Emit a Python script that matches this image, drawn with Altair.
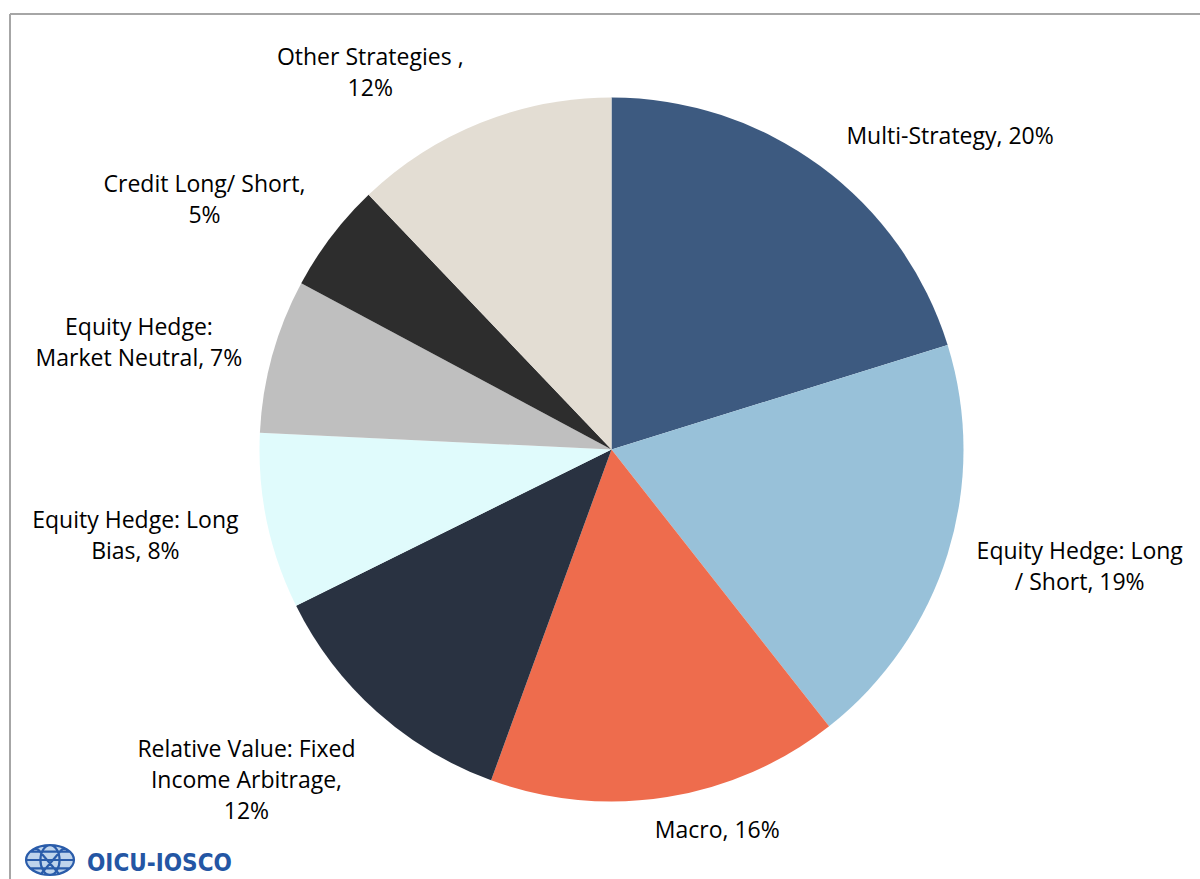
import altair as alt
import pandas as pd

# ---- data ----
categories = [
    "Multi-Strategy",
    "Equity Hedge: Long / Short",
    "Macro",
    "Relative Value: Fixed Income Arbitrage",
    "Equity Hedge: Long Bias",
    "Equity Hedge: Market Neutral",
    "Credit Long/ Short",
    "Other Strategies ",
]
values = [20, 19, 16, 12, 8, 7, 5, 12]
label_prefix = [
    "Multi-Strategy,",
    "Equity Hedge: Long\n/ Short,",
    "Macro,",
    "Relative Value: Fixed\nIncome Arbitrage,",
    "Equity Hedge: Long\nBias,",
    "Equity Hedge:\nMarket Neutral,",
    "Credit Long/ Short,",
    "Other Strategies ,",
]
label_sep = [" ", " ", " ", "\n", " ", " ", "\n", "\n"]
colors = ["#3D5A80", "#98C1D9", "#EE6C4D", "#293241", "#E0FBFC",
          "#BFBFBF", "#2D2D2D", "#E3DDD3"]

labels = [f"{p}{s}{v}%" for p, s, v in zip(label_prefix, label_sep, values)]
df = pd.DataFrame({
    "idx": list(range(len(categories))),
    "category": categories,
    "value": values,
    "label": labels,
})
total = sum(values)

W, H = 1177, 859
PAD_L, PAD_T = 23, 20
R = 352
FONT = "Open Sans"
FS = 23
LH = 31

base = alt.Chart(df)

arc = base.mark_arc(outerRadius=R).encode(
    theta=alt.Theta("value:Q", stack=True, scale=alt.Scale(domain=[0, total])),
    color=alt.Color("category:N", scale=alt.Scale(domain=categories, range=colors), legend=None),
    order=alt.Order("idx:Q"),
)

# label offsets (style nudges of the label block centre relative to the mid-angle anchor)
offsets = {
    "Multi-Strategy": (118, -13),
    "Equity Hedge: Long / Short": (113, 8),
    "Macro": (47, 14),
    "Relative Value: Fixed Income Arbitrage": (-117, 54),
    "Equity Hedge: Long Bias": (-112, 11),
    "Equity Hedge: Market Neutral": (-114, -7),
    "Credit Long/ Short": (-111, -24),
    "Other Strategies ": (-103, -31),
}

label_base = base.transform_window(
    cum="sum(value)", sort=[alt.SortField("idx")], frame=[None, 0]
).transform_calculate(mid="datum.cum - datum.value / 2")

text_layers = []
for cat, lab in zip(categories, labels):
    dx, dy = offsets[cat]
    n_lines = lab.count("\n") + 1
    dy = dy - (n_lines - 1) * LH / 2  # centre the whole block
    t = label_base.transform_filter(alt.datum.category == cat).mark_text(
        radius=R + 20, dx=dx, dy=dy, align="center", baseline="middle",
        lineBreak="\n", font=FONT, fontSize=FS, lineHeight=LH, color="#000000",
    ).encode(
        theta=alt.Theta("mid:Q", stack=False, scale=alt.Scale(domain=[0, total])),
        text="label:N",
    )
    text_layers.append(t)

# frame lines (decoration)
frame_left = alt.Chart(pd.DataFrame({"a": [0]})).mark_rule(color="#A6A6A6", strokeWidth=2).encode(
    x=alt.value(10 - PAD_L), y=alt.value(14 - PAD_T), y2=alt.value(900)
)
frame_top = alt.Chart(pd.DataFrame({"a": [0]})).mark_rule(color="#A6A6A6", strokeWidth=2).encode(
    x=alt.value(10 - PAD_L), x2=alt.value(1250), y=alt.value(14 - PAD_T)
)

# logo
globe_path = ("M -1 0 A 1 0.62 0 1 0 1 0 A 1 0.62 0 1 0 -1 0 Z "
              "M -1 0 L 1 0 M 0 -0.62 A 0.4 0.62 0 0 0 0 0.62 A 0.4 0.62 0 0 0 0 -0.62 "
              "M -0.8 -0.35 L 0.8 -0.35 M -0.8 0.35 L 0.8 0.35 "
              "M -0.55 -0.5 L 0.35 0.55 M 0.55 -0.5 L -0.35 0.55")
logo_globe = alt.Chart(pd.DataFrame({"a": [0]})).mark_point(
    shape=globe_path, size=2300, filled=False, stroke="#2A5CAA", strokeWidth=2.2,
    fill="#B8CFEA", fillOpacity=0.9, opacity=1,
).encode(x=alt.value(50 - PAD_L), y=alt.value(860 - PAD_T))
logo_text = alt.Chart(pd.DataFrame({"t": ["OICU-IOSCO"]})).mark_text(
    align="left", baseline="alphabetic", font="Liberation Sans Narrow, DejaVu Sans Condensed, Roboto",
    fontSize=24, fontWeight="bold", color="#2456A4",
).encode(x=alt.value(87 - PAD_L), y=alt.value(871 - PAD_T), text="t:N")

chart = alt.layer(arc, *text_layers, frame_left, frame_top, logo_globe, logo_text).properties(
    width=W, height=H,
    padding={"left": PAD_L, "top": PAD_T, "right": 0, "bottom": 0},
    autosize=alt.AutoSizeParams(type="none"),
    background="#FFFFFF",
).configure_view(stroke=None)

chart.save("out.html", embed_options={"renderer": "svg", "actions": False})
